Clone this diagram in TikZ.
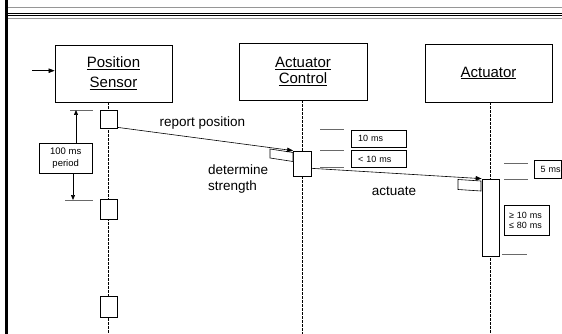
\documentclass[tikz,border=0pt]{standalone}
\usepackage{fontspec}
\setmainfont{Liberation Sans}
\usetikzlibrary{arrows.meta}
\definecolor{tickgray}{RGB}{105,105,105}
\definecolor{rulegray}{RGB}{150,150,150}
\begin{document}
\begin{tikzpicture}[x=1pt,y=-1pt,
  obj/.style={draw=black, line width=0.8pt, fill=white, inner sep=0pt, align=center},
  act/.style={draw=black, line width=0.7pt, fill=white, inner sep=0pt, minimum width=17pt},
  life/.style={line width=0.6pt, dash pattern=on 2.5pt off 1.5pt},
  msg/.style={line width=0.6pt, -{Triangle[length=6pt,width=4.5pt]}},
  parr/.style={line width=0.7pt, -{Triangle[length=5pt,width=4pt]}},
  tick/.style={draw=tickgray, line width=0.8pt},
  notebox/.style={draw=black, line width=0.6pt, fill=white},
  tnote/.style={draw=black, line width=0.6pt, fill=white, inner ysep=0pt, align=left, font=\fontsize{9}{10}\selectfont},
  lbl/.style={inner sep=0pt, font=\fontsize{13.5}{16}\selectfont}]
\useasboundingbox (0,0) rectangle (562,334);
\fill[white] (0,0) rectangle (562,334);
% frame rules
\draw[rulegray, line width=1pt] (6,7.5) -- (562,7.5);
\draw[black, line width=0.9pt] (6,13) -- (562,13);
\draw[black, line width=0.9pt] (6,15.8) -- (562,15.8);
\draw[rulegray, line width=1.3pt] (6,18.3) -- (562,18.3);
\draw[black, line width=2.6pt] (6.5,0) -- (6.5,334);
\coordinate (bot) at (0,334);
% objects
\node[obj, minimum width=117pt, minimum height=57pt, font=\fontsize{15}{20}\selectfont] (ps) at (113.5,73.5) {\underline{Position}\\\underline{Sensor}};
\node[obj, minimum width=128pt, minimum height=57pt, font=\fontsize{15}{16}\selectfont] (ac) at (303,71.5) {\underline{Actuator}\\\underline{Control}};
\node[obj, minimum width=127pt, minimum height=58pt, font=\fontsize{15}{16}\selectfont] (a) at (488.5,73) {\underline{Actuator}};
% lifelines
\coordinate (xps) at (108.5,0);
\coordinate (xac) at (302.5,0);
\coordinate (xa) at (490.5,0);
\draw[life] (ps.south -| xps) -- (bot -| xps);
\draw[life] (ac.south -| xac) -- (bot -| xac);
\draw[life] (a.south -| xa) -- (bot -| xa);
% activations
\node[act, minimum height=18pt] (ps1) at (108.5,119) {};
\node[act, minimum height=20pt] (ps2) at (108.5,209) {};
\node[act, minimum height=21pt] (ps3) at (109,306.5) {};
\node[act, minimum width=18pt, minimum height=25pt] (ac1) at (302.5,163.5) {};
\node[act, minimum height=77pt] (a1) at (490.5,217.5) {};
% input
\coordinate (in0) at (32,70.7);
\draw[msg] (in0) -- (in0 -| ps.west);
% notes on messages
\draw[notebox] (270,149) -- (293,152.5) -- (293,161.5) -- (270,158) -- cycle;
\draw[notebox] (458,179.5) -- (481,181) -- (481,191) -- (458,189.5) -- cycle;
% messages
\draw[msg] ([yshift=1pt]ps1.south east) -- (ac1.north west);
\draw[msg] ([yshift=8pt]ac1.south east) -- (a1.north west);
\node[lbl] (rp) at (202.5,123) {report position};
\node[lbl, align=left, anchor=west] (ds) at (208,179) {determine\\strength};
\node[lbl] (actl) at (394,191.7) {actuate};
% period annotation
\draw[tick] (70,110) -- (93,110);
\draw[tick] (65,200) -- (93,200);
\node[tnote, align=center, inner xsep=0pt, minimum width=53.3pt, minimum height=30pt, font=\fontsize{9.5}{11.7}\selectfont] (period) at (65.7,158.3) {100 ms\\period};
\coordinate (pT) at (76,110);
\coordinate (pB) at (73,200);
\draw[parr] (period.north -| pT) -- (pT);
\draw[parr] (period.south -| pB) -- (pB);
% control timing
\draw[tick] (320,129.3) -- (344,129.3);
\draw[tick] (320,150) -- (344,150);
\draw[tick] (320,167.3) -- (344,167.3);
\node[tnote, inner xsep=7pt, text width=41pt, minimum height=17pt] (t10) at (378.5,138.7) {10 ms};
\node[tnote, inner xsep=7pt, text width=41pt, minimum height=16.6pt] (tl10) at (378.5,159) {< 10 ms};
% actuator timing
\draw[tick] (504,163) -- (528,163);
\draw[tick] (504,179) -- (528,179);
\draw[tick] (502,254.5) -- (527,254.5);
\node[tnote, inner xsep=0.5pt, text width=26pt, align=right, minimum height=17.5pt] (t5) at (547.5,169.5) {5 ms};
\node[tnote, inner xsep=5pt, text width=35pt, minimum height=30pt] (trange) at (526.5,220) {≥ 10 ms\\≤ 80 ms};
\end{tikzpicture}
\end{document}
